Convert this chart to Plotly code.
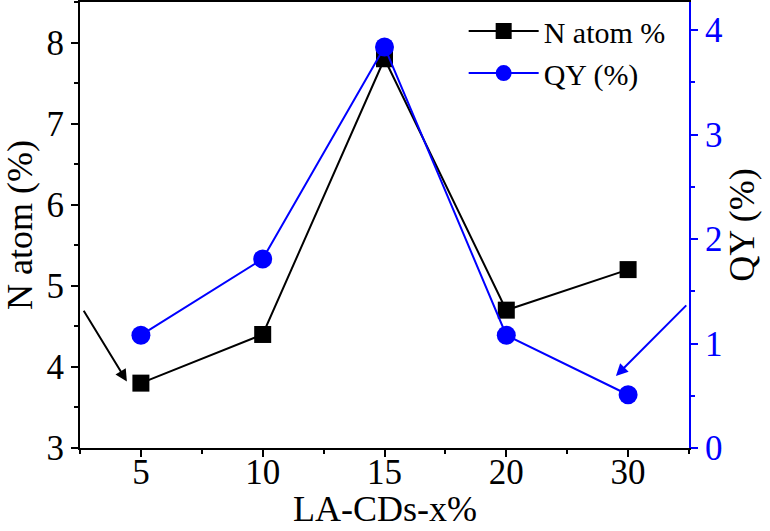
import plotly.graph_objects as go

categories = ["5", "10", "15", "20", "30"]
n_atom = [3.8, 4.4, 7.8, 4.7, 5.2]
qy = [1.08, 1.81, 3.84, 1.08, 0.51]

xi = list(range(len(categories)))
FONT = "Times New Roman, Liberation Serif, serif"
BLUE = "#0000FF"
XRANGE = [-0.5, 4.5]

fig = go.Figure()
fig.add_trace(go.Scatter(
    x=xi, y=n_atom, name="N atom %", mode="lines+markers",
    line=dict(color="black", width=2),
    marker=dict(symbol="square", size=17, color="black"),
))
fig.add_trace(go.Scatter(
    x=xi, y=qy, name="QY (%)", mode="lines+markers", yaxis="y2",
    line=dict(color=BLUE, width=2),
    marker=dict(symbol="circle", size=19, color=BLUE),
))

fig.update_layout(
    width=770, height=531,
    margin=dict(l=80, r=81, t=2, b=83, autoexpand=False),
    paper_bgcolor="white", plot_bgcolor="white",
    font=dict(family=FONT, color="black", size=35),
    showlegend=True,
    legend=dict(x=0.63, y=0.993, xanchor="left", yanchor="top",
                font=dict(size=30, family=FONT), bgcolor="rgba(0,0,0,0)",
                itemwidth=70, tracegroupgap=0),
    # category labels
    xaxis=dict(
        range=XRANGE, tickvals=xi, ticktext=categories, automargin=False,
        anchor="free", position=0,
        showgrid=False, zeroline=False, showline=False, ticks="",
        tickfont=dict(size=35, family=FONT),
    ),
    # axis line, frame and tick marks
    xaxis2=dict(
        overlaying="x", anchor="y", side="bottom", range=XRANGE,
        tickvals=xi, showticklabels=False, automargin=False,
        showgrid=False, zeroline=False,
        showline=True, linecolor="black", linewidth=2, mirror=True,
        ticks="outside", ticklen=7, tickwidth=2, tickcolor="black",
        minor=dict(ticks="outside", ticklen=4, tickwidth=2, tickcolor="black",
                   tickvals=[-0.5, 0.5, 1.5, 2.5, 3.5, 4.5], showgrid=False),
    ),
    yaxis=dict(
        range=[3, 8.5], dtick=1, tick0=3, automargin=False,
        showgrid=False, zeroline=False,
        showline=True, linecolor="black", linewidth=2,
        ticks="outside", ticklen=7, tickwidth=2, tickcolor="black",
        minor=dict(ticks="outside", ticklen=4, tickwidth=2, tickcolor="black",
                   dtick=0.5, showgrid=False),
        title=dict(text="N atom (%)", font=dict(size=36, family=FONT), standoff=6),
        tickfont=dict(size=35, family=FONT),
    ),
    yaxis2=dict(
        overlaying="y", side="right", automargin=False,
        range=[0, 4.27], dtick=1, tick0=0,
        showgrid=False, zeroline=False,
        showline=True, linecolor=BLUE, linewidth=2,
        ticks="outside", ticklen=7, tickwidth=2, tickcolor=BLUE,
        minor=dict(ticks="outside", ticklen=4, tickwidth=2, tickcolor=BLUE,
                   dtick=0.5, showgrid=False),
        tickfont=dict(size=35, color=BLUE, family=FONT),
        title=dict(text="QY (%)", font=dict(size=36, color="black", family=FONT), standoff=6),
    ),
)

# invisible helper trace so the tick-only axis is drawn
fig.add_trace(go.Scatter(x=[XRANGE[0]], y=[None], xaxis="x2", showlegend=False,
                         hoverinfo="skip", mode="markers", marker=dict(opacity=0)))

# x-axis title
fig.add_annotation(
    text="LA-CDs-x%", xref="paper", yref="paper", x=0.5, y=-0.186,
    xanchor="center", yanchor="bottom", showarrow=False,
    font=dict(size=36, family=FONT, color="black"),
)

fig.add_annotation(
    x=-0.115, y=3.82, xref="x", yref="y",
    ax=-0.477, ay=4.71, axref="x", ayref="y",
    showarrow=True, arrowhead=2, arrowsize=1.2, arrowwidth=2,
    arrowcolor="black", text="",
)
fig.add_annotation(
    x=3.9, y=0.69, xref="x", yref="y2",
    ax=4.49, ay=1.38, axref="x", ayref="y2",
    showarrow=True, arrowhead=2, arrowsize=1.2, arrowwidth=2,
    arrowcolor=BLUE, text="",
)

fig.write_html("out.html", config={"displayModeBar": False},
               post_script="document.body.style.margin='0';")
